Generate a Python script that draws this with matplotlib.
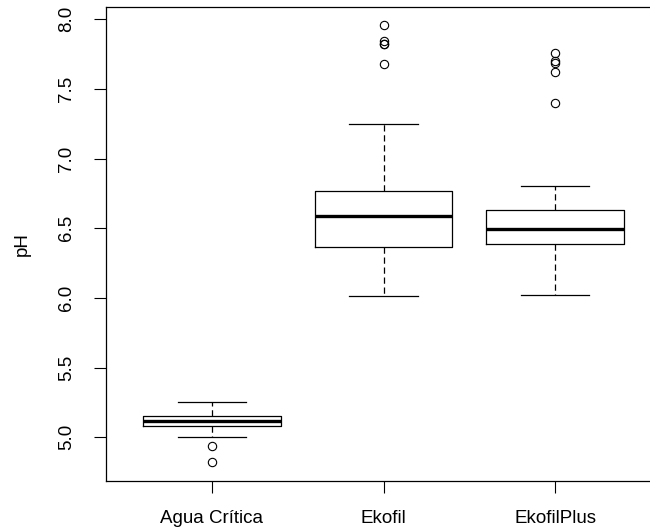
import matplotlib
matplotlib.use("Agg")
import matplotlib.pyplot as plt

plt.rcParams['font.family'] = ['Liberation Sans', 'DejaVu Sans']

# box statistics
groups = ['Agua Crítica', 'Ekofil', 'EkofilPlus']
whisker_low = [5.00, 6.01, 6.02]
q1 = [5.083, 6.367, 6.385]
medians = [5.117, 6.585, 6.494]
q3 = [5.155, 6.767, 6.630]
whisker_high = [5.253, 7.247, 6.805]
outliers = [
    [4.94, 4.82],
    [7.955, 7.84, 7.825, 7.82, 7.676],
    [7.755, 7.70, 7.685, 7.62, 7.40],
]

stats = []
for i, name in enumerate(groups):
    stats.append({
        'label': name,
        'whislo': whisker_low[i],
        'q1': q1[i],
        'med': medians[i],
        'q3': q3[i],
        'whishi': whisker_high[i],
        'fliers': outliers[i],
    })

fig = plt.figure(figsize=(6.5, 5.31), dpi=100)
# R leaves the right edge of the frame just outside the image
ax = fig.add_axes([105.5 / 650, 49.7 / 531, 556 / 650, 474 / 531])

lw = 0.9
ax.bxp(stats, positions=[1, 2, 3], widths=0.8,
       boxprops=dict(color='black', linewidth=lw),
       medianprops=dict(color='black', linewidth=2.4),
       whiskerprops=dict(color='black', linewidth=lw, linestyle=(0, (5, 3))),
       capprops=dict(color='black', linewidth=lw),
       capwidths=0.4,
       flierprops=dict(marker='o', markerfacecolor='none', markeredgecolor='black',
                       markersize=6, markeredgewidth=0.8))

ax.set_xlim(0.38, 3.62)
ax.set_ylim(4.684, 8.085)
ax.set_yticks([5.0, 5.5, 6.0, 6.5, 7.0, 7.5, 8.0])
ax.set_yticklabels(['5.0', '5.5', '6.0', '6.5', '7.0', '7.5', '8.0'],
                   rotation=90, va='center')
ax.set_xticks([1, 2, 3])
ax.set_xticklabels(groups)
ax.tick_params(axis='both', length=8.4, width=0.8, labelsize=13.5, colors='black')
ax.tick_params(axis='y', pad=13.5)
ax.tick_params(axis='x', pad=12)
ax.set_ylabel('pH', fontsize=13.5, labelpad=20)

for s in ax.spines.values():
    s.set_linewidth(0.9)
    s.set_color('black')

fig.savefig('out.png', dpi=100)
